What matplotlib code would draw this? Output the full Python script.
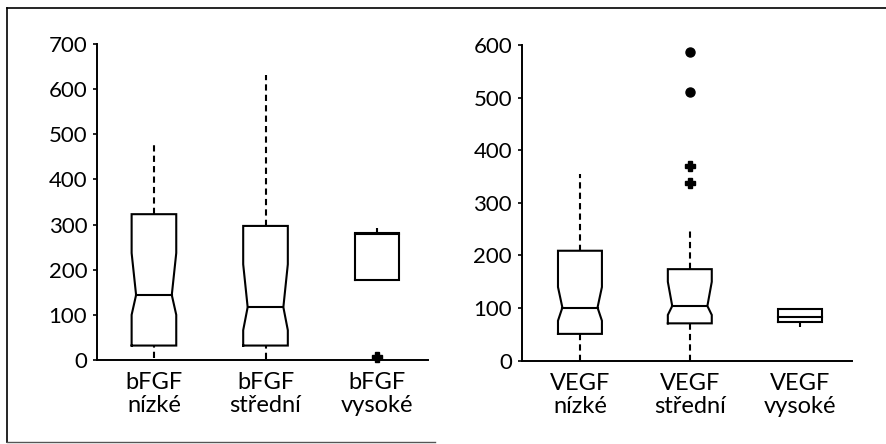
import matplotlib
matplotlib.use("Agg")
import matplotlib.pyplot as plt
from matplotlib.lines import Line2D

plt.rcParams['font.family'] = ['Lato', 'DejaVu Sans']

# bFGF groups
bfgf_labels = ["bFGF\nnízké", "bFGF\nstřední", "bFGF\nvysoké"]
bfgf_q1 = [32, 32, 177]
bfgf_med = [144, 117, 279]
bfgf_q3 = [323, 297, 282]
bfgf_whislo = [5, 2, 177]
bfgf_whishi = [477, 632, 292]
bfgf_cilo = [100, 66, None]
bfgf_cihi = [237, 212, None]
bfgf_mild = [[], [], [7]]
bfgf_extreme = [[], [], []]

# VEGF groups
vegf_labels = ["VEGF\nnízké", "VEGF\nstřední", "VEGF\nvysoké"]
vegf_q1 = [51, 71, 74]
vegf_med = [101, 104, 84]
vegf_q3 = [209, 174, 98]
vegf_whislo = [0, 0, 65]
vegf_whishi = [355, 248, 101]
vegf_cilo = [76, 87, None]
vegf_cihi = [140, 150, None]
vegf_mild = [[], [371, 337], []]
vegf_extreme = [[], [587, 510], []]

LW = 1.5
BOX_W = 0.4


def draw_boxes(ax, q1, med, q3, lo, hi, cilo, cihi, mild, extreme):
    for i in range(len(q1)):
        pos = i + 1
        left, right = pos - BOX_W / 2, pos + BOX_W / 2
        if cilo[i] is not None:
            nl, nr = pos - BOX_W * 0.4, pos + BOX_W * 0.4
            xs = [left, right, right, nr, right, right, left, left, nl, left, left]
            ys = [q1[i], q1[i], cilo[i], med[i], cihi[i], q3[i], q3[i],
                  cihi[i], med[i], cilo[i], q1[i]]
            mx = [nl, nr]
        else:
            xs = [left, right, right, left, left]
            ys = [q1[i], q1[i], q3[i], q3[i], q1[i]]
            mx = [left, right]
        ax.plot(xs, ys, color='black', lw=LW, solid_joinstyle='miter')
        ax.plot(mx, [med[i], med[i]], color='black', lw=LW)
        if hi[i] > q3[i]:
            ax.plot([pos, pos], [q3[i], hi[i]], color='black', lw=LW,
                    linestyle=(0, (3, 2)))
        if lo[i] < q1[i]:
            ax.plot([pos, pos], [lo[i], q1[i]], color='black', lw=LW,
                    linestyle=(0, (3, 2)))
        if mild[i]:
            ax.plot([pos] * len(mild[i]), mild[i], linestyle='none', marker='P',
                    color='black', markersize=6.5, clip_on=False)
        if extreme[i]:
            ax.plot([pos] * len(extreme[i]), extreme[i], linestyle='none',
                    marker='o', color='black', markersize=6.5, clip_on=False)


def style_axes(ax, labels, ymax, xlim):
    ax.set_xlim(*xlim)
    ax.set_ylim(0, ymax)
    ax.set_yticks(range(0, ymax + 1, 100))
    ax.set_xticks(range(1, len(labels) + 1))
    ax.set_xticklabels(labels, fontsize=17, linespacing=1.1)
    ax.tick_params(axis='x', length=0, pad=9)
    ax.tick_params(axis='y', direction='out', length=3, width=1.2, pad=4,
                   labelsize=16)
    for s in ('top', 'right'):
        ax.spines[s].set_visible(False)
    for s in ('left', 'bottom'):
        ax.spines[s].set_linewidth(1.4)


fig = plt.figure(figsize=(8.87, 4.44), dpi=100)

ax1 = fig.add_axes([0.1094, 0.1892, 0.3732, 0.7117])
draw_boxes(ax1, bfgf_q1, bfgf_med, bfgf_q3, bfgf_whislo, bfgf_whishi,
           bfgf_cilo, bfgf_cihi, bfgf_mild, bfgf_extreme)
style_axes(ax1, bfgf_labels, 700, (0.49, 3.457))

ax2 = fig.add_axes([0.5882, 0.1876, 0.3724, 0.711])
draw_boxes(ax2, vegf_q1, vegf_med, vegf_q3, vegf_whislo, vegf_whishi,
           vegf_cilo, vegf_cihi, vegf_mild, vegf_extreme)
style_axes(ax2, vegf_labels, 600, (0.47, 3.477))

# outer frame
fig.add_artist(Line2D([0.008, 1.0], [0.982, 0.982], color='black', lw=1.2))
fig.add_artist(Line2D([0.008, 0.008], [0.982, 0.004], color='black', lw=1.2))
fig.add_artist(Line2D([0.008, 0.49], [0.004, 0.004], color='#555555', lw=1.0))

fig.savefig("out.png", dpi=100)
